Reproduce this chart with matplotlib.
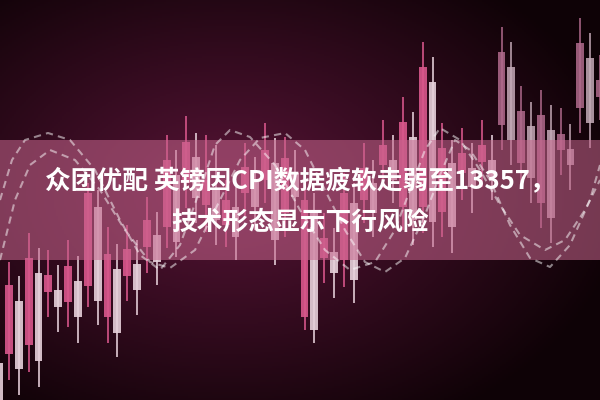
import numpy as np
import matplotlib
matplotlib.use("Agg")
import matplotlib.pyplot as plt

plt.rcParams['font.family'] = ['Noto Sans CJK SC', 'DejaVu Sans']

# candle data (one candle per session, price units)
highs = [65, 138, 124, 167, 152, 150, 135, 160, 144, 217, 210, 173, 156, 175, 160, 203,
         188, 265, 250, 284, 267, 265, 255, 220, 213, 257, 243, 277, 262, 263, 250, 220,
         207, 187, 172, 227, 217, 257, 240, 280, 265, 303, 288, 358, 343, 277, 260, 272,
         257, 280, 265, 373, 358, 314, 298, 310, 295, 292, 276, 382, 367, 345]
lows = [-20, 20, 5, 28, 13, 83, 68, 73, 57, 93, 75, 57, 43, 99, 85, 127,
        115, 152, 143, 192, 177, 168, 155, 153, 140, 183, 170, 197, 135, 163, 180, 70,
        57, 117, 102, 113, 97, 177, 163, 212, 197, 170, 155, 167, 153, 163, 147, 200,
        187, 213, 200, 250, 235, 213, 197, 172, 157, 225, 210, 267, 252, 280]
opens = [37, 46, 99, 55, 127, 108, 110, 98, 119, 114, 193, 83, 131, 124, 136, 153,
         165, 173, 225, 217, 243, 195, 210, 175, 193, 207, 220, 220, 237, 187, 227, 83,
         187, 142, 148, 140, 197, 200, 217, 235, 240, 193, 263, 193, 318, 188, 237, 227,
         232, 238, 240, 275, 333, 237, 274, 197, 270, 250, 251, 292, 342, 303]
closes = [-2, 115, 31, 142, 39, 125, 93, 134, 83, 207, 99, 146, 67, 151, 110, 180,
          138, 240, 158, 258, 202, 220, 180, 200, 163, 233, 193, 250, 160, 242, 203, 200,
          70, 162, 127, 207, 120, 232, 187, 255, 220, 278, 180, 333, 178, 252, 173, 247,
          213, 255, 223, 348, 260, 289, 222, 285, 182, 266, 235, 357, 277, 320]

# dashed wave overlays (picture pixel coords)
wave1_x = [0, 12, 25, 48, 70, 95, 120, 140, 160, 180, 200, 215, 230, 250, 275, 300, 325,
           350, 375, 395, 410, 425, 440, 460, 480, 500, 520, 545, 565, 585, 600]
wave1_y = [200, 160, 140, 133, 140, 170, 220, 255, 270, 245, 190, 145, 130, 137, 165, 210,
           250, 270, 262, 230, 190, 150, 128, 140, 170, 205, 235, 250, 240, 210, 180]
wave2_x = [0, 15, 30, 50, 75, 100, 125, 150, 170, 195, 220, 240, 260, 285, 305, 325, 345,
           365, 385, 405, 425, 440, 455, 470, 490, 510, 530, 550, 570, 590, 600]
wave2_y = [260, 200, 165, 150, 160, 190, 230, 262, 268, 250, 200, 160, 138, 133, 150, 190,
           230, 262, 272, 258, 215, 175, 140, 150, 180, 225, 258, 267, 245, 200, 165]

title_lines = ["众团优配 英镑因CPI数据疲软走弱至13357，", "技术形态显示下行风险"]

fig = plt.figure(figsize=(6, 4), dpi=100)
ax = fig.add_axes([0, 0, 1, 1])
ax.set_xlim(0.086, 61.0)
ax.set_ylim(0, 400)
ax.axis('off')

# background radial glow
gx, gy = np.meshgrid(np.linspace(0, 600, 300), np.linspace(0, 400, 200))
r = np.sqrt(((gx - 230) / 400) ** 2 + ((gy - 190) / 270) ** 2)
t = np.clip(r, 0, 1)[..., None]
inner = np.array([88, 20, 55]) / 255
outer = np.array([14, 2, 6]) / 255
bg = inner * (1 - t) + outer * t
ax.imshow(bg, extent=(0.086, 61.0, 0, 400), aspect='auto', zorder=0, origin='upper')

idx = np.arange(len(highs))
o = np.array(opens)
c = np.array(closes)
up = c > o
for i in idx:
    if i >= 51:
        col = '#b06a8c' if up[i] else '#c4aab7'
        a = 0.85
    else:
        col = '#d9578c' if up[i] else '#e6d0da'
        a = 0.9
    ax.vlines(i, lows[i], highs[i], color=col, lw=1.3, alpha=a, zorder=2)
    ax.bar(i, abs(c[i] - o[i]), bottom=min(c[i], o[i]), width=0.8,
           color=col, alpha=a, zorder=2, linewidth=0)

# overlay layer for band, waves and title
ov = fig.add_axes([0, 0, 1, 1])
ov.set_xlim(0, 600)
ov.set_ylim(400, 0)
ov.axis('off')
ov.patch.set_alpha(0)
ov.axhspan(140, 260, color='#c8668e', alpha=0.55, lw=0, zorder=1)
for wx, wy in [(wave1_x, wave1_y), (wave2_x, wave2_y)]:
    ov.plot(wx, wy, color='white', alpha=0.5, lw=1.5, ls=(0, (3.5, 2.5)), zorder=2)

ov.text(300, 182, title_lines[0], color='white', fontsize=18.5, fontweight='bold',
        ha='center', va='center', zorder=3)
ov.text(300, 222, title_lines[1], color='white', fontsize=18.5, fontweight='bold',
        ha='center', va='center', zorder=3)

fig.savefig('out.png', dpi=100)
